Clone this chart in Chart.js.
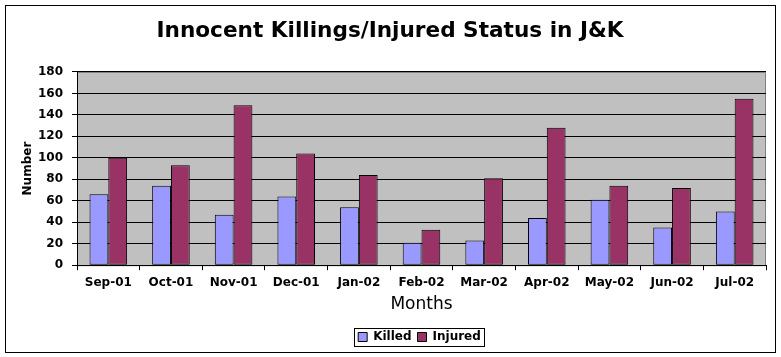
<!DOCTYPE html>
<html>
<head>
<meta charset="utf-8">
<script src="https://cdn.jsdelivr.net/npm/chart.js@4/dist/chart.umd.min.js"></script>
<style>
html,body{margin:0;padding:0;background:#fff;}
#wrap{width:781px;height:357px;position:relative;}
</style>
</head>
<body>
<div id="wrap"><canvas id="c" width="781" height="357"></canvas></div>
<script>
const months = ["Sep-01","Oct-01","Nov-01","Dec-01","Jan-02","Feb-02","Mar-02","Apr-02","May-02","Jun-02","Jul-02"];
const killed = [66, 74, 47, 64, 54, 21, 23, 44, 61, 35, 50];
const injured = [100, 93, 149, 104, 84, 33, 81, 128, 74, 72, 155];
const yTicks = [0, 20, 40, 60, 80, 100, 120, 140, 160, 180];

const FONT = "Verdana, 'DejaVu Sans', sans-serif";

const decor = {
  id: 'decor',
  afterLayout(chart) {
    const lg = chart.legend;
    if (lg) {
      const a = chart.chartArea;
      const center = (a.left + a.right) / 2 - 2;
      const dx = center - (lg.left + lg.right) / 2;
      lg.left += dx; lg.right += dx;
    }
    const tb = chart.titleBlock;
    if (tb) {
      const dx = 390 - (tb.left + tb.right) / 2;
      tb.left += dx; tb.right += dx;
    }
  },
  beforeDraw(chart) {
    const {ctx, chartArea: a} = chart;
    ctx.save();
    ctx.fillStyle = '#fff';
    ctx.fillRect(0, 0, chart.width, chart.height);
    ctx.fillStyle = '#C0C0C0';
    ctx.fillRect(a.left, a.top, a.right - a.left, a.bottom - a.top);
    ctx.strokeStyle = '#808080';
    ctx.lineWidth = 1;
    ctx.strokeRect(a.left + 0.5, a.top + 0.5, a.right - a.left - 1, a.bottom - a.top);
    ctx.restore();
  },
  afterDraw(chart) {
    const ctx = chart.ctx;
    ctx.save();
    ctx.strokeStyle = '#000';
    ctx.lineWidth = 1;
    ctx.strokeRect(5.5, 5.5, 770, 347);
    const lg = chart.legend;
    if (lg && lg.legendHitBoxes && lg.legendHitBoxes.length) {
      const boxes = lg.legendHitBoxes;
      const l = Math.min(...boxes.map(b => b.left)) - 4;
      const r = Math.max(...boxes.map(b => b.left + b.width)) + 3;
      const t = Math.min(...boxes.map(b => b.top)) - 3;
      const bt = Math.max(...boxes.map(b => b.top + b.height)) + 3;
      ctx.strokeRect(Math.round(l) + 0.5, Math.round(t) + 0.5, Math.round(r - l), Math.round(bt - t));
    }
    ctx.restore();
  }
};

new Chart(document.getElementById('c'), {
  type: 'bar',
  data: {
    labels: months,
    datasets: [
      { label: 'Killed', data: killed, backgroundColor: '#9999FF', borderColor: '#000', borderWidth: 1, borderSkipped: false },
      { label: 'Injured', data: injured, backgroundColor: '#993366', borderColor: '#000', borderWidth: 1, borderSkipped: false }
    ]
  },
  options: {
    responsive: false,
    animation: false,
    devicePixelRatio: 1,
    layout: { padding: { top: 14, left: 0, right: 15, bottom: 4 } },
    datasets: { bar: { categoryPercentage: 0.6, barPercentage: 1.0 } },
    plugins: {
      title: {
        display: true,
        text: 'Innocent Killings/Injured Status in J&K',
        color: '#000',
        font: { family: FONT, size: 21.6, weight: 'bold' },
        padding: { top: 4, bottom: 28 }
      },
      legend: {
        position: 'bottom',
        labels: {
          color: '#000',
          font: { family: FONT, size: 12, weight: 'bold' },
          boxWidth: 9, boxHeight: 9, padding: 6,
          generateLabels(chart) {
            return chart.data.datasets.map((d, i) => ({
              text: d.label, fillStyle: d.backgroundColor, strokeStyle: '#000',
              lineWidth: 1, datasetIndex: i, hidden: false, fontColor: '#000'
            }));
          }
        }
      },
      tooltip: { enabled: false }
    },
    scales: {
      x: {
        grid: { display: true, offset: true, drawOnChartArea: false, color: '#000', tickLength: 5, tickColor: '#000' },
        border: { display: true, color: '#000' },
        ticks: { color: '#000', font: { family: FONT, size: 12, weight: 'bold' }, padding: 5, maxRotation: 0 },
        title: { display: true, text: 'Months', color: '#000', font: { family: FONT, size: 17 }, padding: { top: 0, bottom: 10 } }
      },
      y: {
        min: 0, max: 180,
        afterBuildTicks(scale) { scale.ticks = yTicks.map(v => ({ value: v })); },
        grid: { color: '#000', tickLength: 5, tickColor: '#000' },
        border: { display: true, color: '#000' },
        ticks: { color: '#000', font: { family: FONT, size: 12, weight: 'bold' }, padding: 9 },
        title: { display: true, text: 'Number', color: '#000', font: { family: FONT, size: 12, weight: 'bold' }, padding: { top: 21, bottom: 0 } },
        afterFit(scale) { scale.width = 77; }
      }
    }
  },
  plugins: [decor]
});
</script>
</body>
</html>
